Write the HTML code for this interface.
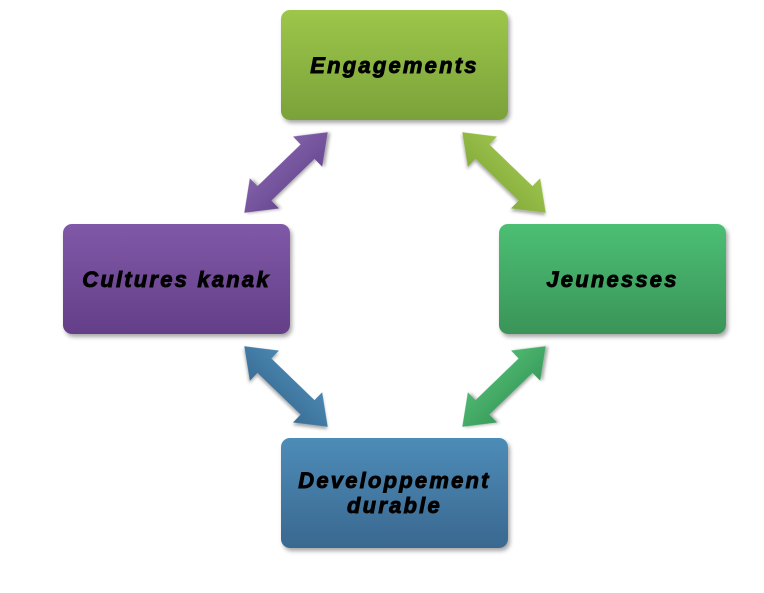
<!DOCTYPE html>
<html><head><meta charset="utf-8"><style>
body{margin:0;width:764px;height:593px;background:#fff;overflow:hidden;position:relative;font-family:"Liberation Sans",Arial,sans-serif}
.b{position:absolute;width:227px;height:110px;border-radius:9px;box-shadow:2px 3px 4px rgba(0,0,0,.35);display:flex;align-items:center;justify-content:center;text-align:center;font-weight:900;font-style:italic;font-size:22px;line-height:25px;color:#000;letter-spacing:2.2px;-webkit-text-stroke:0.9px #000}
</style></head><body>
<svg width="764" height="593" style="position:absolute;left:0;top:0">
<defs>
<linearGradient id="gp" x1="0" y1="0" x2="0" y2="1"><stop offset="0" stop-color="#8060a8"/><stop offset="1" stop-color="#6a4a92"/></linearGradient>
<linearGradient id="gl" x1="0" y1="0" x2="0" y2="1"><stop offset="0" stop-color="#9cc24c"/><stop offset="1" stop-color="#86ad3c"/></linearGradient>
<linearGradient id="gg" x1="0" y1="0" x2="0" y2="1"><stop offset="0" stop-color="#4cb870"/><stop offset="1" stop-color="#3c9c5c"/></linearGradient>
<linearGradient id="gb" x1="0" y1="0" x2="0" y2="1"><stop offset="0" stop-color="#4a86b0"/><stop offset="1" stop-color="#3a6e96"/></linearGradient>
<filter id="sh"><feDropShadow dx="1.5" dy="2" stdDeviation="1.5" flood-opacity="0.35"/></filter>
<polygon id="ar" points="-58,0 -30,-21 -30,-10 30,-10 30,-21 58,0 30,21 30,10 -30,10 -30,21"/>
</defs>
<use href="#ar" fill="url(#gp)" filter="url(#sh)" transform="translate(286,172.5) rotate(-44)"/>
<use href="#ar" fill="url(#gl)" filter="url(#sh)" transform="translate(504,172.5) rotate(44)"/>
<use href="#ar" fill="url(#gg)" filter="url(#sh)" transform="translate(504,386.5) rotate(-44)"/>
<use href="#ar" fill="url(#gb)" filter="url(#sh)" transform="translate(286,386.5) rotate(44)"/>
</svg>
<div class="b" style="left:281px;top:10px;background:linear-gradient(#9dc64a,#7aa23a)">Engagements</div>
<div class="b" style="left:63px;top:224px;background:linear-gradient(#8058a8,#643f88)">Cultures kanak</div>
<div class="b" style="left:499px;top:224px;background:linear-gradient(#4cbf74,#3a9458)">Jeunesses</div>
<div class="b" style="left:281px;top:438px;background:linear-gradient(#4d8cb8,#3a6890)">Developpement<br>durable</div>
</body></html>
